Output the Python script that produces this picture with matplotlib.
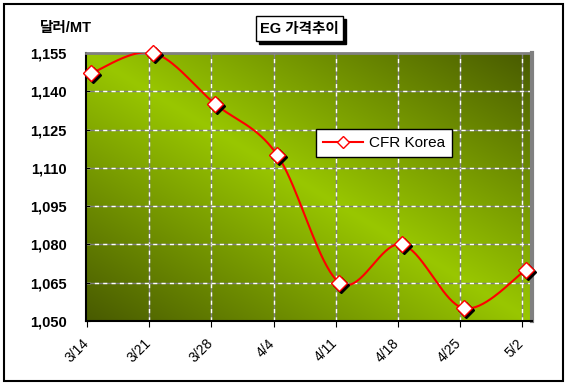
import numpy as np
import matplotlib
matplotlib.use("Agg")
import matplotlib.pyplot as plt
import matplotlib.transforms as mtransforms
from matplotlib.patches import Rectangle

plt.rcParams['font.family'] = ['Liberation Sans', 'Noto Sans CJK KR', 'DejaVu Sans']

# data
dates = ["3/14", "3/21", "3/28", "4/4", "4/11", "4/18", "4/25", "5/2"]
cfr_korea = [1147, 1155, 1135, 1115, 1065, 1080, 1055, 1070]
y_ticks = [1050, 1065, 1080, 1095, 1110, 1125, 1140, 1155]
title_text = "EG 가격추이"
unit_text = "달러/MT"
series_name = "CFR Korea"


def excel_smooth(xs, ys, n=40):
    """Bezier smoothing like the office 'smoothed line' option."""
    px = np.asarray(xs, float)
    py = np.asarray(ys, float)
    m = len(px)
    out_x, out_y = [], []
    t = np.linspace(0, 1, n)
    for i in range(m - 1):
        i0 = max(i - 1, 0)
        i3 = min(i + 2, m - 1)
        c1x = px[i] + (px[i + 1] - px[i0]) / 6.0
        c1y = py[i] + (py[i + 1] - py[i0]) / 6.0
        c2x = px[i + 1] - (px[i3] - px[i]) / 6.0
        c2y = py[i + 1] - (py[i3] - py[i]) / 6.0
        bx = ((1 - t) ** 3 * px[i] + 3 * (1 - t) ** 2 * t * c1x
              + 3 * (1 - t) * t ** 2 * c2x + t ** 3 * px[i + 1])
        by = ((1 - t) ** 3 * py[i] + 3 * (1 - t) ** 2 * t * c1y
              + 3 * (1 - t) * t ** 2 * c2y + t ** 3 * py[i + 1])
        out_x.extend(bx)
        out_y.extend(by)
    return np.array(out_x), np.array(out_y)


W, H = 570, 387
fig = plt.figure(figsize=(W / 100, H / 100), dpi=100)
fig.patch.set_facecolor("white")


def px_rect(x0, y0, x1, y1, **kw):
    # rectangle given in pixel coords from the top-left corner
    return Rectangle((x0 / W, 1 - y1 / H), (x1 - x0) / W, (y1 - y0) / H,
                     transform=fig.transFigure, **kw)


# outer frame
fig.patches.append(px_rect(4, 4, 563, 381, fill=False, edgecolor="black",
                           linewidth=1.5))

ax = fig.add_axes([86 / W, 66 / H, 446 / W, 268 / H])

x = np.arange(len(dates))
xlo, xhi = -0.08, len(dates) - 1 + 0.1
ylo, yhi = y_ticks[0], y_ticks[-1]
ax.set_xlim(xlo, xhi)
ax.set_ylim(ylo, yhi)

# diagonal gradient background
gx, gy = np.meshgrid(np.linspace(0, 1, 300), np.linspace(0, 1, 200))
d = np.clip(np.abs(gx + gy - 1.0), 0, 1)
bright = np.array([0x99, 0xc7, 0x00]) / 255
dark = np.array([0x48, 0x5a, 0x00]) / 255
img = bright[None, None, :] * (1 - d[..., None]) + dark[None, None, :] * d[..., None]
ax.imshow(img, extent=[xlo, xhi, ylo, yhi], origin="lower", aspect="auto",
          interpolation="bilinear", zorder=0)

# gridlines: gray base + white dashes
grid_x = x - 0.06
for gxv in grid_x[1:]:
    ax.axvline(gxv, color="#808080", lw=1, zorder=1)
    ax.axvline(gxv, color="white", lw=1, ls=(0, (3, 3)), zorder=1)
for yv in y_ticks[1:-1]:
    ax.axhline(yv, color="#808080", lw=1, zorder=1)
    ax.axhline(yv, color="white", lw=1, ls=(0, (3, 3)), zorder=1)

sx, sy = excel_smooth(x, cfr_korea)
ax.plot(sx, sy, color="red", lw=1.5, zorder=3)

shadow = mtransforms.offset_copy(ax.transData, fig=fig, x=2, y=-2, units="dots")
ax.plot(x, cfr_korea, ls="none", marker="D", ms=8, color="black",
        transform=shadow, zorder=3, clip_on=False)
ax.plot(x, cfr_korea, ls="none", marker="D", ms=8, mfc="white", mec="red",
        mew=1.0, zorder=4, clip_on=False)

# legend proxy
ax.plot([], [], color="red", lw=1.5, marker="D", ms=6, mfc="white", mec="red",
        label=series_name)
leg = fig.legend(loc="lower left", bbox_to_anchor=(316 / W, 1 - 157 / H),
                 frameon=True, fancybox=False, framealpha=1, edgecolor="black",
                 prop={"size": 11}, handlelength=2.6, borderpad=0.45,
                 handletextpad=0.4, borderaxespad=0)
leg.get_frame().set_linewidth(1.0)

ax.set_yticks(y_ticks)
ax.set_yticklabels([f"{v:,}" for v in y_ticks], fontsize=10.5, fontweight="bold")
ax.set_xticks(grid_x)
ax.set_xticklabels(dates, rotation=45, ha="right", rotation_mode="anchor",
                   fontsize=10)
ax.tick_params(axis="x", length=4, direction="out", pad=7)
ax.tick_params(axis="y", length=3, direction="in", pad=14)
for lab in ax.get_xticklabels():
    lab.set_transform(lab.get_transform()
                      + mtransforms.ScaledTranslation(-4 / 72, 0, fig.dpi_scale_trans))

for side in ["left", "bottom"]:
    ax.spines[side].set_color("black")
    ax.spines[side].set_linewidth(1.5)
ax.spines["top"].set_color("#808080")
ax.spines["top"].set_linewidth(2)
ax.spines["right"].set_color("#808080")
ax.spines["right"].set_linewidth(3)

# title box with shadow
fig.patches.append(px_rect(259, 19, 346, 44, facecolor="black", edgecolor="black"))
fig.patches.append(px_rect(256, 16, 343, 41, facecolor="white", edgecolor="black",
                           linewidth=1))
fig.text(299.5 / W, 1 - 29 / H, title_text, ha="center", va="center",
         fontsize=10.5, fontweight="bold")

fig.text(40 / W, 1 - 28 / H, unit_text, ha="left", va="center",
         fontsize=10.5, fontweight="bold")

fig.savefig("out.png", dpi=100)
